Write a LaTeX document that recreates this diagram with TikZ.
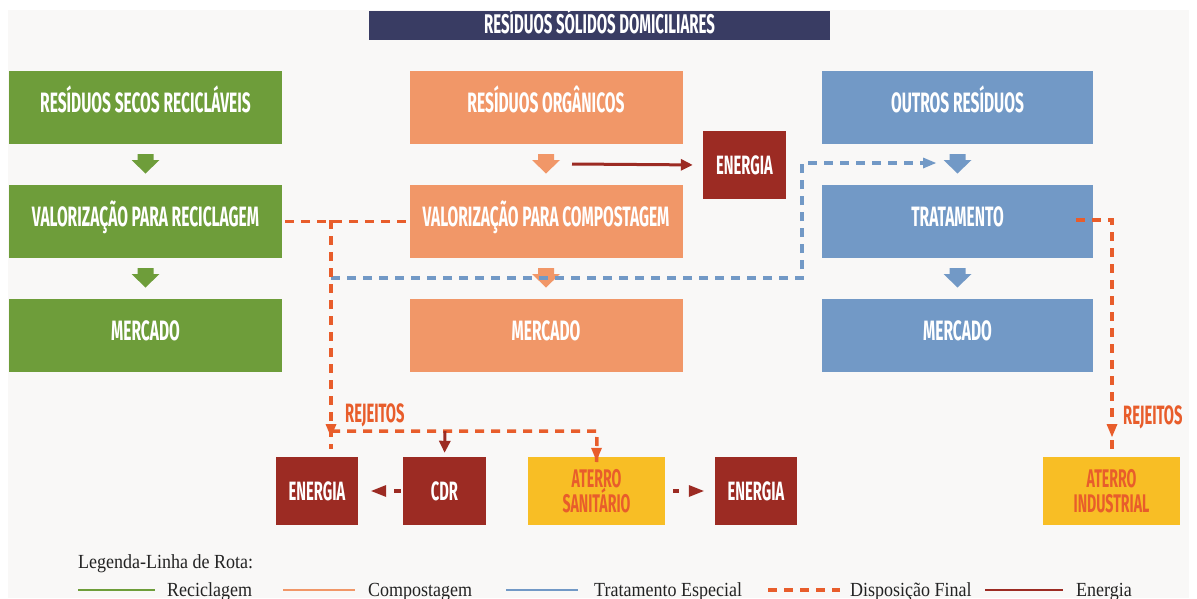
\documentclass[tikz,border=0pt]{standalone}
\usepackage{fontspec}
\setmainfont{Liberation Serif}
\newfontfamily\cond[FakeStretch=0.555]{Fira Sans}
\newfontfamily\legfont[FakeStretch=0.9]{Liberation Serif}
\usetikzlibrary{arrows.meta}
\definecolor{bgc}{RGB}{249,248,247}
\definecolor{gcol}{RGB}{110,157,58}
\definecolor{ocol}{RGB}{241,151,104}
\definecolor{bcol}{RGB}{114,153,198}
\definecolor{rcol}{RGB}{156,43,35}
\definecolor{ycol}{RGB}{248,190,37}
\definecolor{ncol}{RGB}{57,60,99}
\definecolor{dcol}{RGB}{232,93,43}
\definecolor{legtext}{RGB}{35,35,35}
\tikzset{
  wbox/.style={rectangle, inner sep=0pt, text=white, align=center,
    font=\cond\bfseries\fontsize{28}{30}\selectfont},
  bigbox/.style={wbox, minimum width=273pt, minimum height=73pt, text height=17pt, text depth=0pt},
  smallbox/.style={wbox, fill=rcol, minimum width=83pt, minimum height=68pt,
    font=\cond\bfseries\fontsize{26.5}{28}\selectfont},
  ybox/.style={wbox, fill=ycol, text=dcol, minimum width=137pt, minimum height=68pt,
    font=\cond\bfseries\fontsize{25.5}{25.5}\selectfont},
  rej/.style={text=dcol, font=\cond\bfseries\fontsize{26.5}{28}\selectfont, inner sep=0pt},
  tip/.style={-{Triangle[length=12pt,width=11pt]}},
  dashline/.style={draw=dcol, line width=3.5pt, dash pattern=on 9pt off 7pt},
  bdashline/.style={draw=bcol, line width=3.5pt, dash pattern=on 9pt off 7pt},
  redline/.style={draw=rcol, line width=3pt},
  fatarr/.pic={\fill[#1] (-8,0) -- (8,0) -- (8,6) -- (14,6) -- (0,19.5) -- (-14,6) -- (-8,6) -- cycle;},
  legtxt/.style={anchor=base west, inner sep=0pt, text=legtext, font=\legfont\fontsize{20}{21}\selectfont},
  legline/.style={line width=2.5pt}
}
\begin{document}
\begin{tikzpicture}[x=1pt,y=-1pt]
\useasboundingbox (0,0) rectangle (1197,598);
\clip (0,0) rectangle (1197,598);
\fill[white] (0,0) rectangle (1197,598);
\fill[bgc] (8,10) rectangle (1189,598);

% title
\node[wbox, fill=ncol, minimum width=461pt, minimum height=29pt, text height=17pt, text depth=0pt,
  font=\cond\bfseries\fontsize{27}{28}\selectfont] (title) at (599.5,25.5) {\raisebox{1pt}{RESÍDUOS SÓLIDOS DOMICILIARES}};

% green column
\node[bigbox, fill=gcol] (g1) at (145.5,107.5) {\raisebox{4pt}{RESÍDUOS SECOS RECICLÁVEIS}};
\node[bigbox, fill=gcol] (g2) at (145.5,221.5) {\raisebox{4pt}{VALORIZAÇÃO PARA RECICLAGEM}};
\node[bigbox, fill=gcol] (g3) at (145.5,335.5) {\raisebox{4pt}{MERCADO}};
% orange column
\node[bigbox, fill=ocol] (o1) at (546,107.5) {\raisebox{4pt}{RESÍDUOS ORGÂNICOS}};
\node[bigbox, fill=ocol] (o2) at (546,221.5) {\raisebox{4pt}{VALORIZAÇÃO PARA COMPOSTAGEM}};
\node[bigbox, fill=ocol] (o3) at (546,335.5) {\raisebox{4pt}{MERCADO}};
% blue column
\node[bigbox, fill=bcol, minimum width=271pt] (b1) at (957.5,107.5) {\raisebox{4pt}{OUTROS RESÍDUOS}};
\node[bigbox, fill=bcol, minimum width=271pt] (b2) at (957.5,221.5) {\raisebox{4pt}{TRATAMENTO}};
\node[bigbox, fill=bcol, minimum width=271pt] (b3) at (957.5,335.5) {\raisebox{4pt}{MERCADO}};

% energy top
\node[smallbox] (e1) at (744.5,165) {ENERGIA};

% bottom row
\node[smallbox, minimum width=82pt] (e2) at (317,491) {ENERGIA};
\node[smallbox] (cdr) at (444.5,491) {CDR};
\node[ybox] (as) at (596.5,491) {ATERRO\\SANITÁRIO};
\node[smallbox, minimum width=82pt] (e3) at (756,491) {ENERGIA};
\node[ybox] (ai) at (1111.5,491) {ATERRO\\INDUSTRIAL};

% fat arrows
\path (145.5,154) pic {fatarr=gcol} (145.5,268) pic {fatarr=gcol};
\path (546,154) pic {fatarr=ocol} (546,268) pic {fatarr=ocol};
\path (957.5,154) pic {fatarr=bcol} (957.5,268) pic {fatarr=bcol};

% coordinates
\coordinate (rs) at (572,164);
\coordinate (bs) at (331,278);
\coordinate (bc1) at (802,278);
\coordinate (bc2) at (802,163);
\coordinate (be) at (936,163);
\coordinate (j1) at (331,220);
\coordinate (j2) at (331,437);
\coordinate (h1) at (331,431);
\coordinate (h2) at (597,431);
\coordinate (hc) at (445,431);
\coordinate (ts) at (1076,220);
\coordinate (tc) at (1112,220);
\coordinate (te) at (1112,437);

% energy arrow
\draw[redline, tip, shorten >=10pt] (rs) -- (e1.west);

% blue dashed route
\draw[bdashline] (bs) -- (bc1) -- (bc2) -- (be);
\fill[bcol] (be) -- ++(-13,-5.5) -- ++(0,11) -- cycle;

% orange dashed routes
\draw[dashline] (g2.east) ++(3,0) -- (o2.west);
\draw[dashline] (j1) -- ([yshift=-12pt]j2);
\fill[dcol] (j2) -- ++(-5.5,-13) -- ++(11,0) -- cycle;
\draw[dashline] (h1) -- (h2) -- ([yshift=-12pt]as.north);
\fill[dcol] ([yshift=-4pt]as.north) -- ++(-5.5,-13) -- ++(11,0) -- cycle;
\draw[redline, tip, shorten >=4pt] (hc) -- (cdr.north);
\draw[dashline] (ts) -- (tc) -- ([yshift=-12pt]te);
\fill[dcol] (te) -- ++(-5.5,-13) -- ++(11,0) -- cycle;

% energy dashed arrows
\draw[redline, line width=3.5pt, shorten >=36pt, shorten <=2pt] (cdr.west) -- (e2.east);
\fill[rcol] ([xshift=13pt]e2.east) -- ++(15,-6) -- ++(0,12) -- cycle;
\draw[redline, line width=3.5pt, shorten >=36pt, shorten <=8pt] (as.east) -- (e3.west);
\fill[rcol] (e3.west) ++(-11,0) -- ++(-15,-6) -- ++(0,12) -- cycle;

% labels
\node[rej, anchor=west] (r1) at (345,415) {REJEITOS};
\node[rej, anchor=west] (r2) at (1123,417) {REJEITOS};

% legend
\node[legtxt] (lt) at (78,568) {Legenda-Linha de Rota:};
\draw[legline, gcol] (78,590) -- (155,590);
\node[legtxt] (l1) at (167,596) {Reciclagem};
\draw[legline, ocol] (283,590) -- (355,590);
\node[legtxt] (l2) at (368,596) {Compostagem};
\draw[legline, bcol] (506,590) -- (578,590);
\node[legtxt] (l3) at (594,596) {Tratamento Especial};
\draw[legline, dcol, line width=3.5pt, dash pattern=on 9pt off 7pt] (768,590) -- (840,590);
\node[legtxt] (l4) at (850,596) {Disposição Final};
\draw[legline, rcol] (985,590) -- (1063,590);
\node[legtxt] (l5) at (1076,596) {Energia};
\end{tikzpicture}
\end{document}
